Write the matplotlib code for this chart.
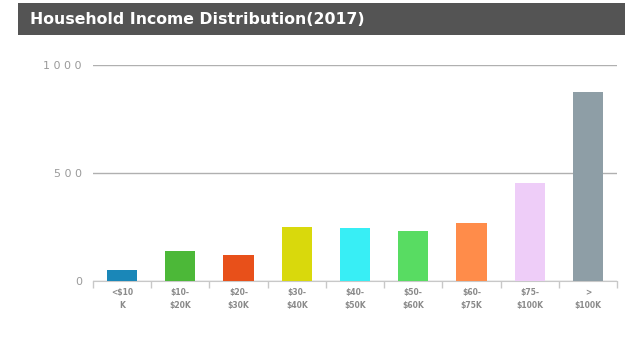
import matplotlib.pyplot as plt
import numpy as np
from matplotlib.patches import Rectangle

categories = ['<$10\nK', '$10-\n$20K', '$20-\n$30K', '$30-\n$40K', '$40-\n$50K',
              '$50-\n$60K', '$60-\n$75K', '$75-\n$100K', '>\n$100K']
households = [50, 138, 120, 250, 245, 233, 270, 456, 875]
colors = ['#1a87b8', '#4cb838', '#e8501a', '#d9d90c', '#38eef5',
          '#58dc62', '#ff8c4a', '#eecdf8', '#8e9ea6']

fig = plt.figure(figsize=(6.43, 3.54), dpi=100)

# title bar
fig.patches.append(Rectangle((0.028, 0.901), 0.944, 0.091, transform=fig.transFigure,
                             facecolor='#545454', edgecolor='none', zorder=0))
fig.text(0.046, 0.946, 'Household Income Distribution(2017)', color='white',
         fontsize=11.3, fontweight='bold', va='center', ha='left')

ax = fig.add_axes([0.1446, 0.2062, 0.815, 0.6102])
x = np.arange(len(categories))
ax.bar(x, households, width=0.52, color=colors, zorder=3)

ax.set_xlim(-0.5, len(categories) - 0.5)
ax.set_ylim(0, 1000)
ax.set_yticks([0, 500, 1000])
ax.set_yticklabels(['0', '5 0 0', '1 0 0 0'], color='#9a9a9a', fontsize=8)
ax.yaxis.grid(True, color='#b0b0b0', linewidth=1, zorder=0)
ax.tick_params(axis='y', length=0, pad=8)

ax.set_xticks(x)
ax.set_xticklabels(categories, color='#8a8a8a', fontsize=5.5, fontweight='bold',
                   linespacing=1.6)
ax.set_xticks(np.arange(len(categories) + 1) - 0.5, minor=True)
ax.tick_params(axis='x', which='major', length=0, pad=5)
ax.tick_params(axis='x', which='minor', length=5, color='#c8c8c8', width=1)

for s in ['top', 'right', 'left']:
    ax.spines[s].set_visible(False)
ax.spines['bottom'].set_color('#c8c8c8')

plt.savefig('out.png', dpi=100)
